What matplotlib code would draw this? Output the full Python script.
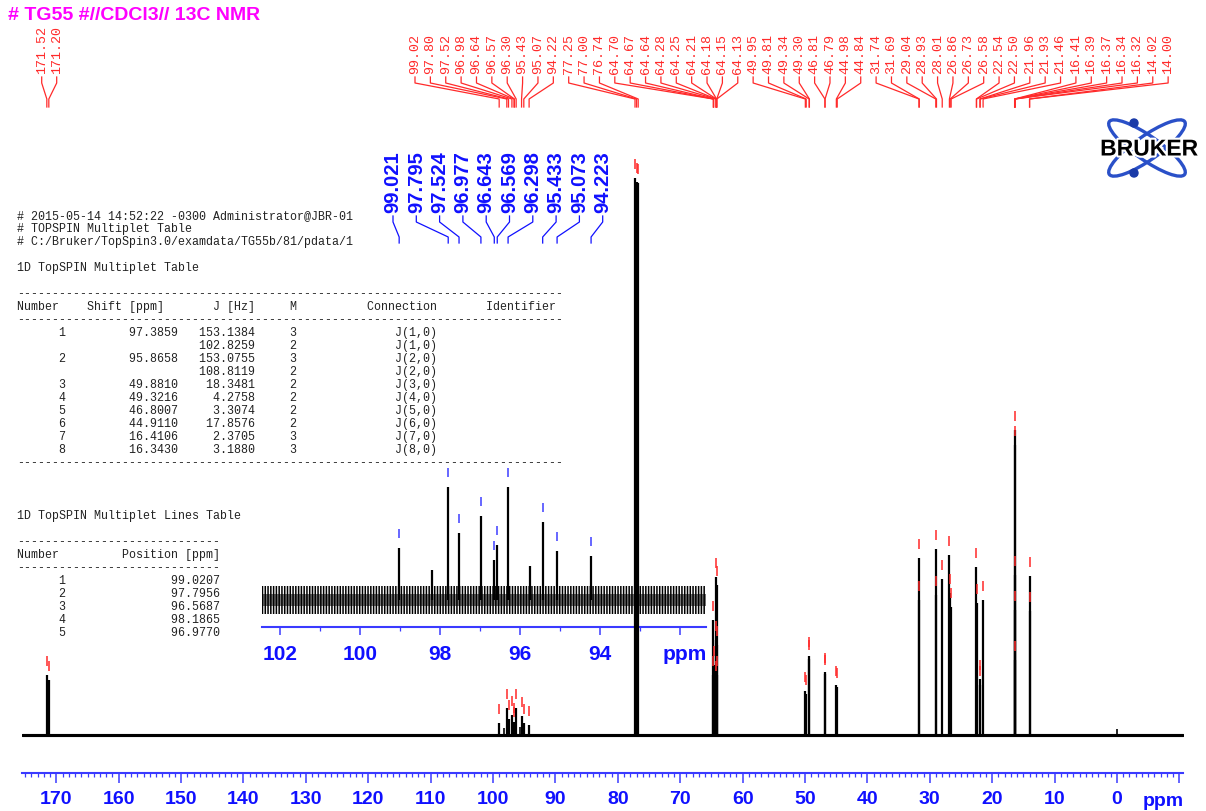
import matplotlib
matplotlib.use("Agg")
import matplotlib.pyplot as plt
import matplotlib.patheffects as pe
from matplotlib import font_manager
from matplotlib.patches import Ellipse, Circle
from decimal import Decimal, ROUND_HALF_UP

# ---------------------------------------------------------------- data
title = "# TG55 #//CDCl3// 13C NMR"

# picked peaks (ppm) and their intensities (arbitrary units)
peak_ppm = [171.52, 171.20,
            99.021, 97.795, 97.524, 96.977, 96.643, 96.569, 96.298, 95.433, 95.073, 94.223,
            77.25, 77.00, 76.74,
            64.70, 64.67, 64.64, 64.28, 64.25, 64.21, 64.18, 64.15, 64.13,
            49.95, 49.81, 49.34, 49.30, 46.81, 46.79, 44.98, 44.84,
            31.74, 31.69, 29.04, 28.93, 28.01, 26.86, 26.73, 26.58,
            22.54, 22.50, 21.96, 21.93, 21.46,
            16.41, 16.39, 16.37, 16.34, 16.32, 14.02, 14.00]
peak_height = [60, 55,
               12.4, 26.9, 16.0, 20.0, 9.5, 13.1, 26.9, 18.6, 11.7, 10.5,
               557, 553, 552,
               60, 115, 70, 55, 95, 158, 150, 90, 60,
               44, 41, 79, 76, 63, 61, 50, 48,
               177, 135, 186, 140, 156, 180, 142, 128,
               168, 132, 56, 50, 135,
               125, 290, 305, 160, 75, 159, 124]

# weak unpicked signals
weak_ppm = [98.19, 95.76, 0.0]
weak_height = [7.1, 8.1, 6.0]

# peaks annotated in the expanded region (ppm, 3 decimals)
expanded_ppm = [99.021, 97.795, 97.524, 96.977, 96.643, 96.569, 96.298, 95.433, 95.073, 94.223]

# baseline noise envelope (arbitrary units) in the full and expanded traces
noise_full = 1.2
noise_expanded = 3.3

# multiplet table
mult_number = ["1", "", "2", "", "3", "4", "5", "6", "7", "8"]
mult_shift = ["97.3859", "", "95.8658", "", "49.8810", "49.3216", "46.8007", "44.9110", "16.4106", "16.3430"]
mult_j = ["153.1384", "102.8259", "153.0755", "108.8119", "18.3481", "4.2758", "3.3074", "17.8576", "2.3705", "3.1880"]
mult_m = ["3", "2", "3", "2", "2", "2", "2", "2", "3", "3"]
mult_conn = ["J(1,0)", "J(1,0)", "J(2,0)", "J(2,0)", "J(3,0)", "J(4,0)", "J(5,0)", "J(6,0)", "J(7,0)", "J(8,0)"]

# multiplet lines table
line_number = ["1", "2", "3", "4", "5"]
line_position = ["99.0207", "97.7956", "96.5687", "98.1865", "96.9770"]

header_lines = ["# 2015-05-14 14:52:22 -0300 Administrator@JBR-01",
                "# TOPSPIN Multiplet Table",
                "# C:/Bruker/TopSpin3.0/examdata/TG55b/81/pdata/1"]

main_ticks = list(range(170, -11, -10))
inset_ticks = [102, 100, 98, 96, 94, 92]
inset_tick_labels = ["102", "100", "98", "96", "94", ""]

# ---------------------------------------------------------------- style
W, H = 1206, 811
RED = "#ff2a2a"
BLUE = "#1010ff"
AXBLUE = "#3a3aff"
MONO = "Liberation Mono"
SANS = "Liberation Sans"
axis_font = dict(family=SANS, size=14, weight="bold")
plt.rcParams["hatch.linewidth"] = 1.1


def box(l, t, r, b):
    return [l / W, 1 - b / H, (r - l) / W, (b - t) / H]


def fmt2(v):
    return str(Decimal(str(v)).quantize(Decimal("0.01"), rounding=ROUND_HALF_UP))


fig = plt.figure(figsize=(W / 100, H / 100), dpi=100)
fig.patch.set_facecolor("white")

# ---------------------------------------------------------------- full spectrum
main = fig.add_axes(box(22, 150, 1183, 773), zorder=3)
main.set_facecolor("none")
main.set_xlim(175.5, -10.58)
main.set_ylim(-38, 585)
main.fill_between([175.5, -10.58], -noise_full, noise_full, color="black", lw=0.8, zorder=2)
main.vlines(peak_ppm, 0, peak_height, color="black", lw=1.6, zorder=3)
main.vlines(weak_ppm, 0, weak_height, color="black", lw=1.2, zorder=3)
main.vlines(peak_ppm, [h + 9 for h in peak_height], [h + 19 for h in peak_height],
            color=RED, lw=1.3, zorder=4, alpha=0.85)
for s in ("left", "right", "top"):
    main.spines[s].set_visible(False)
main.spines["bottom"].set_color(AXBLUE)
main.spines["bottom"].set_linewidth(1.5)
main.set_yticks([])
main.set_xticks(main_ticks)
main.set_xticklabels([str(t) if t >= 0 else "" for t in main_ticks])
main.set_xticks(list(range(175, -11, -1)), minor=True)
main.tick_params(axis="x", which="major", direction="out", length=7, width=1.1,
                 color=AXBLUE, labelcolor=BLUE, pad=6)
main.tick_params(axis="x", which="minor", direction="out", length=3, width=0.9, color=AXBLUE)
for lab in main.get_xticklabels():
    lab.set_fontfamily(axis_font["family"])
    lab.set_fontsize(axis_font["size"])
    lab.set_fontweight("bold")

# ---------------------------------------------------------------- expansion 91-102 ppm
ISC = 4.2
ins = fig.add_axes(box(262, 460, 706, 627), zorder=2)
ins.set_facecolor("none")
ins.set_xlim(102.45, 91.35)
ins.set_ylim(-27 / ISC, 140 / ISC)
ins.fill_between([102.45, 91.35], -noise_expanded, noise_expanded,
                 facecolor="none", edgecolor="black", hatch="||||||", lw=0)
ins.fill_between([102.45, 91.35], -noise_expanded * 0.45, noise_expanded * 0.45,
                 color="black", alpha=0.55, lw=0)
sel = [(p, h) for p, h in zip(peak_ppm, peak_height) if 91.35 < p < 102.45]
sel += [(p, h) for p, h in zip(weak_ppm, weak_height) if 91.35 < p < 102.45]
ins.vlines([p for p, _ in sel], 0, [h for _, h in sel], color="black", lw=1.6)
exp_h = [peak_height[peak_ppm.index(p)] for p in expanded_ppm]
ins.vlines(expanded_ppm, [h + 10 / ISC for h in exp_h], [h + 19 / ISC for h in exp_h],
           color="#5a5aff", lw=1.3)
for s in ("left", "right", "top"):
    ins.spines[s].set_visible(False)
ins.spines["bottom"].set_color(AXBLUE)
ins.spines["bottom"].set_linewidth(1.5)
ins.set_yticks([])
ins.set_xticks(inset_ticks)
ins.set_xticklabels(inset_tick_labels, fontsize=15, fontweight="bold", family=SANS)
ins.set_xticks([101, 99, 97, 95, 93], minor=True)
ins.tick_params(axis="x", which="major", direction="out", length=6, width=1.1,
                color=AXBLUE, labelcolor=BLUE, pad=7)
ins.tick_params(axis="x", which="minor", direction="out", length=3, width=0.9, color=AXBLUE)

# ---------------------------------------------------------------- annotation layer (pixel coords)
ov = fig.add_axes([0, 0, 1, 1], zorder=5)
ov.set_xlim(0, W)
ov.set_ylim(H, 0)
ov.axis("off")
ov.set_facecolor("none")


def px_main(p):
    return main.transData.transform((p, 0))[0]


def px_ins(p):
    return ins.transData.transform((p, 0))[0]


# peak labels on top with leader lines
groups = [(peak_ppm[:2], 41.7, 15.0), (peak_ppm[2:], 415.0, 15.37)]
for ppms, x0, dx in groups:
    for i, p in enumerate(ppms):
        lx = x0 + i * dx
        ov.text(lx, 74, fmt2(p), rotation=90, ha="center", va="bottom",
                fontsize=9.6, family=MONO, color=RED)
        xp = px_main(p)
        ov.plot([lx, lx, xp, xp], [77, 83, 99, 107], color=RED, lw=0.9)

# labels for the expansion
for i, p in enumerate(expanded_ppm):
    lx = 393.0 + i * 23.3
    ov.text(lx, 213, f"{p:.3f}", rotation=90, ha="center", va="bottom",
            fontsize=14.5, fontweight="bold", family=SANS, color=BLUE)
    xp = px_ins(p)
    ov.plot([lx, lx, xp, xp], [216, 222, 237, 243], color=BLUE, lw=0.9)

ov.text(1163, 801, "ppm", ha="center", va="center", color=BLUE, fontsize=14,
        fontweight="bold", family=SANS)
ov.text(685, 655, "ppm", ha="center", va="center", color=BLUE,
        fontsize=15, fontweight="bold", family=SANS)

# title
ov.text(8, 15, title, ha="left", va="center", fontsize=14, fontweight="bold",
        family=SANS, color="#ff00ff")

# multiplet report
TXT = dict(family=MONO, fontsize=8.4, color="#222222", ha="left", va="center")
y = 216
for ln in header_lines:
    ov.text(17, y, ln, **TXT)
    y += 13
ov.text(17, 268, "1D TopSPIN Multiplet Table", **TXT)
ov.text(17, 294, "-" * 78, **TXT)
hdr = ("Number" + " " * 4 + "Shift [ppm]" + " " * 7 + "J [Hz]" + " " * 5 + "M"
       + " " * 10 + "Connection" + " " * 7 + "Identifier")
ov.text(17, 307, hdr, **TXT)
ov.text(17, 320, "-" * 78, **TXT)
y = 333
for n, s, j, m, c in zip(mult_number, mult_shift, mult_j, mult_m, mult_conn):
    ov.text(17, y, f"{n:>7}{s:>16}{j:>11}{m:>6}{c:>20}", **TXT)
    y += 13
ov.text(17, 463, "-" * 78, **TXT)

ov.text(17, 516, "1D TopSPIN Multiplet Lines Table", **TXT)
ov.text(17, 542, "-" * 29, **TXT)
ov.text(17, 555, "Number" + " " * 9 + "Position [ppm]", **TXT)
ov.text(17, 568, "-" * 29, **TXT)
y = 581
for n, pos in zip(line_number, line_position):
    ov.text(17, y, f"{n:>7}{pos:>22}", **TXT)
    y += 13

# logo
LOGO = "#2a50c8"
ov.add_patch(Ellipse((1147, 148), 92, 24, angle=35, fill=False, ec=LOGO, lw=2.4))
ov.add_patch(Ellipse((1147, 148), 92, 24, angle=-35, fill=False, ec=LOGO, lw=2.4))
ov.add_patch(Circle((1134, 123), 4, color="#1a3aa8"))
ov.add_patch(Circle((1134, 173), 4, color="#1a3aa8"))
ov.text(1149, 149, "BRUKER", ha="center", va="center", fontsize=16.5, fontweight="heavy",
        family=SANS, color="black",
        path_effects=[pe.withStroke(linewidth=3, foreground="white")])

fig.savefig("out.png", dpi=100)
